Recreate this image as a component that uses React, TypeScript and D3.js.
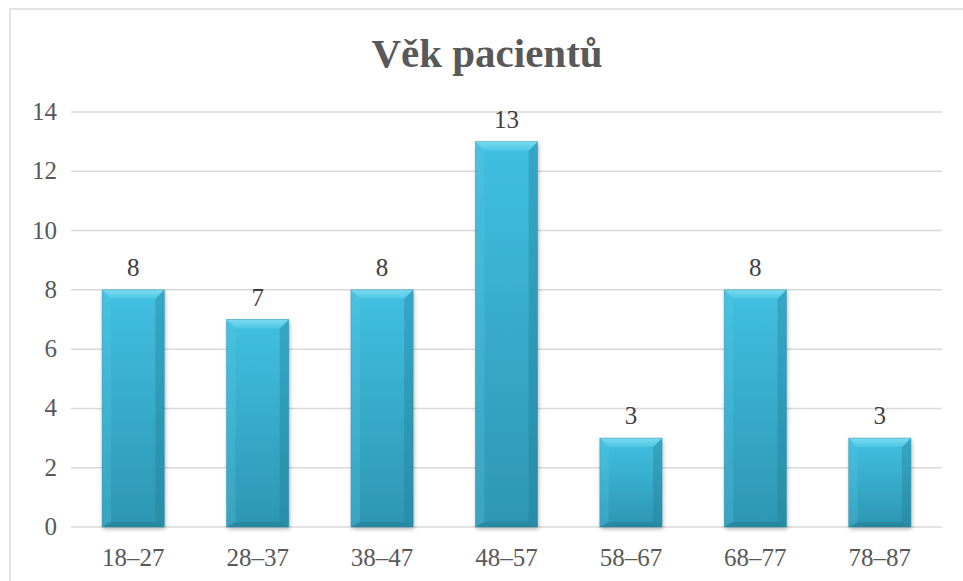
import React, { useRef, useEffect } from "react";
import * as d3 from "d3";

const categories = ["18–27", "28–37", "38–47", "48–57", "58–67", "68–77", "78–87"];
const counts = [8, 7, 8, 13, 3, 8, 3];
const yTicks = [0, 2, 4, 6, 8, 10, 12, 14];
const title = "Věk pacientů";

function App() {
  const ref = useRef<SVGSVGElement>(null);

  useEffect(() => {
    const width = 963;
    const height = 581;
    const font = "'Liberation Serif', 'Times New Roman', serif";

    const svg = d3.select(ref.current).attr("viewBox", [0, 0, width, height]);
    svg.selectAll("*").remove();

    const defs = svg.append("defs");
    const grad = defs
      .append("linearGradient")
      .attr("id", "barGrad")
      .attr("x1", 0)
      .attr("y1", 0)
      .attr("x2", 0)
      .attr("y2", 1);
    grad.append("stop").attr("offset", "0%").attr("stop-color", "#41bfe1");
    grad.append("stop").attr("offset", "100%").attr("stop-color", "#2d96b2");

    const topGrad = defs
      .append("linearGradient")
      .attr("id", "topGrad")
      .attr("x1", 0)
      .attr("y1", 0)
      .attr("x2", 0)
      .attr("y2", 1);
    topGrad.append("stop").attr("offset", "0%").attr("stop-color", "#7adbf0");
    topGrad.append("stop").attr("offset", "100%").attr("stop-color", "#4cc6e5");

    const shadow = defs
      .append("filter")
      .attr("id", "shadow")
      .attr("x", "-20%")
      .attr("y", "-20%")
      .attr("width", "140%")
      .attr("height", "140%");
    shadow
      .append("feDropShadow")
      .attr("dx", 1)
      .attr("dy", 2)
      .attr("stdDeviation", 2)
      .attr("flood-color", "#000")
      .attr("flood-opacity", 0.3);

    // chart border
    svg
      .append("rect")
      .attr("x", 10)
      .attr("y", 9)
      .attr("width", width + 20)
      .attr("height", height + 20)
      .attr("fill", "#fff")
      .attr("stroke", "#d9d9d9")
      .attr("stroke-width", 1.5);

    const x = d3
      .scaleBand()
      .domain(categories)
      .range([71, 942])
      .paddingInner(0.5)
      .paddingOuter(0.25);

    const y = d3.scaleLinear().domain([0, 14]).range([527, 112]);

    // title
    svg
      .append("text")
      .attr("x", 487)
      .attr("y", 67)
      .attr("text-anchor", "middle")
      .attr("font-family", font)
      .attr("font-weight", "bold")
      .attr("font-size", 41)
      .attr("fill", "#595959")
      .text(title);

    // gridlines
    svg
      .append("g")
      .selectAll("line")
      .data(yTicks)
      .join("line")
      .attr("x1", 71)
      .attr("x2", 942)
      .attr("y1", (d) => y(d))
      .attr("y2", (d) => y(d))
      .attr("stroke", "#d9d9d9")
      .attr("stroke-width", 1.5);

    // y tick labels
    svg
      .append("g")
      .selectAll("text")
      .data(yTicks)
      .join("text")
      .attr("x", 57)
      .attr("y", (d) => y(d) + 8)
      .attr("text-anchor", "end")
      .attr("font-family", font)
      .attr("font-size", 25)
      .attr("fill", "#595959")
      .text((d) => d);

    // category labels
    svg
      .append("g")
      .selectAll("text")
      .data(categories)
      .join("text")
      .attr("x", (d) => x(d)! + x.bandwidth() / 2)
      .attr("y", 566)
      .attr("text-anchor", "middle")
      .attr("font-family", font)
      .attr("font-size", 25)
      .attr("fill", "#595959")
      .text((d) => d);

    // bars with bevel
    const bw = x.bandwidth();
    const bev = 9;
    const bars = svg
      .append("g")
      .selectAll("g")
      .data(counts)
      .join("g")
      .attr("transform", (d, i) => `translate(${x(categories[i])},${y(d)})`);

    bars
      .append("rect")
      .attr("width", bw)
      .attr("height", (d) => y(0) - y(d))
      .attr("fill", "url(#barGrad)")
      .attr("filter", "url(#shadow)");

    // left bevel
    bars
      .append("path")
      .attr("d", (d) => {
        const h = y(0) - y(d);
        return `M0,0 L${bev},${bev} L${bev},${h - 5} L0,${h} Z`;
      })
      .attr("fill", "#5ccde9")
      .attr("opacity", 0.25);
    // right bevel
    bars
      .append("path")
      .attr("d", (d) => {
        const h = y(0) - y(d);
        return `M${bw},0 L${bw - bev},${bev} L${bw - bev},${h - 5} L${bw},${h} Z`;
      })
      .attr("fill", "#1f7a93")
      .attr("opacity", 0.35);
    // bottom bevel
    bars
      .append("path")
      .attr("d", (d) => {
        const h = y(0) - y(d);
        return `M0,${h} L${bev},${h - 5} L${bw - bev},${h - 5} L${bw},${h} Z`;
      })
      .attr("fill", "#1f7a93")
      .attr("opacity", 0.5);
    // top bevel
    bars
      .append("path")
      .attr("d", `M0,0 L${bw},0 L${bw - bev},${bev} L${bev},${bev} Z`)
      .attr("fill", "url(#topGrad)");
    // thin dark outline
    bars
      .append("rect")
      .attr("width", bw)
      .attr("height", (d) => y(0) - y(d))
      .attr("fill", "none")
      .attr("stroke", "#2a8ca7")
      .attr("stroke-opacity", 0.5)
      .attr("stroke-width", 0.8);

    // data labels
    svg
      .append("g")
      .selectAll("text")
      .data(counts)
      .join("text")
      .attr("x", (d, i) => x(categories[i])! + bw / 2)
      .attr("y", (d) => y(d) - 14)
      .attr("text-anchor", "middle")
      .attr("font-family", font)
      .attr("font-size", 25)
      .attr("fill", "#404040")
      .text((d) => d);
  }, []);

  return (
    <svg
      ref={ref}
      width={963}
      height={581}
      style={{ position: "absolute", left: 0, top: 0, background: "#fff" }}
    />
  );
}

export default App;
